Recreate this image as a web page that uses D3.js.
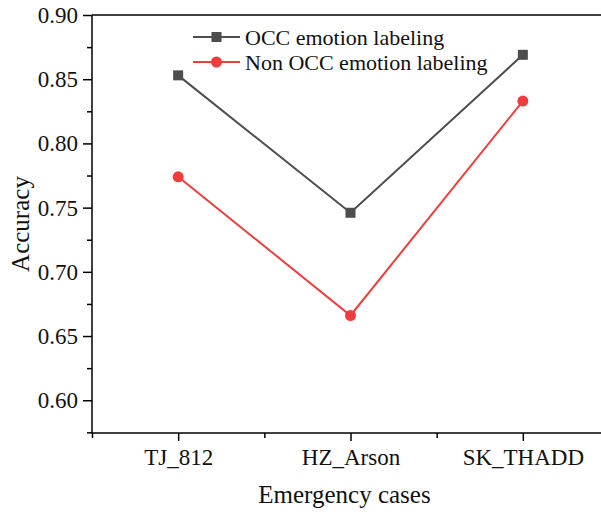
<!DOCTYPE html>
<html><head><meta charset="utf-8">
<script src="https://cdn.jsdelivr.net/npm/d3@7"></script>
<style>body{margin:0;background:#fff}svg{display:block}</style>
</head><body><svg id="c" width="601" height="512"></svg>
<script>
const categories = ["TJ_812", "HZ_Arson", "SK_THADD"];
const occValues = [0.853, 0.746, 0.869];
const nonOccValues = [0.774, 0.666, 0.833];
const yTicks = [0.60, 0.65, 0.70, 0.75, 0.80, 0.85, 0.90];
const seriesNames = ["OCC emotion labeling", "Non OCC emotion labeling"];

const FONT = "'Liberation Serif', 'Times New Roman', serif";
const svg = d3.select("#c");
const L = 92, R = 609, T = 15, B = 433;
const x = d3.scaleLinear().domain([0.5, 3.5]).range([L, R]);
const y = d3.scaleLinear().domain([0.5745, 0.90]).range([B, T]);

// frame
svg.append("line").attr("x1", L).attr("x2", 601).attr("y1", T).attr("y2", T).attr("stroke", "#000").attr("stroke-width", 1.5);

// Y axis
const yAx = svg.append("g").attr("transform", `translate(${L},0)`)
  .call(d3.axisLeft(y).tickValues(yTicks).tickFormat(d3.format(".2f")).tickSize(9).tickPadding(5));
const yMinor = svg.append("g").attr("transform", `translate(${L},0)`)
  .call(d3.axisLeft(y).tickValues(yTicks.map(v => v - 0.025)).tickFormat("").tickSize(5));
// X axis
const xAx = svg.append("g").attr("transform", `translate(0,${B})`)
  .call(d3.axisBottom(x).tickValues([1, 2, 3]).tickFormat((d, i) => categories[i]).tickSize(8).tickPadding(8));
const xMinor = svg.append("g").attr("transform", `translate(0,${B})`)
  .call(d3.axisBottom(x).tickValues([0.5, 1.5, 2.5, 3.5]).tickFormat("").tickSize(5));
[yAx, yMinor, xAx, xMinor].forEach(g => {
  g.attr("font-family", FONT);
  g.selectAll("path").attr("stroke", "#000").attr("stroke-width", 1.5);
  g.selectAll("line").attr("stroke", "#000").attr("stroke-width", 1.5);
});
yMinor.select("path").remove(); xMinor.select("path").remove();
yAx.select("path").attr("d", `M0,${B}V${T}`);
xAx.select("path").attr("d", `M${L},0H601`);
[yAx, xAx].forEach(g => g.selectAll("text").style("font-family", FONT).style("font-size", "23px").attr("fill", "#111"));

// titles
svg.append("text").style("font-family", FONT).attr("fill", "#111").attr("x", (L + R) / 2 - 6).attr("y", 503).attr("text-anchor", "middle").style("font-size", "25px").text("Emergency cases");
svg.append("text").style("font-family", FONT).attr("fill", "#111").attr("transform", `translate(29,${(T + B) / 2}) rotate(-90)`).attr("text-anchor", "middle").style("font-size", "25px").text("Accuracy");

const series = [
  {name: seriesNames[0], values: occValues, color: "#4d4d4d", shape: "square"},
  {name: seriesNames[1], values: nonOccValues, color: "#f23c3c", shape: "circle"}
];
const line = d3.line().x((d, i) => x(i + 1)).y(d => y(d));
function marker(g, cx, cy, s) {
  if (s.shape === "square") g.append("rect").attr("x", cx - 5).attr("y", cy - 5).attr("width", 10).attr("height", 10).attr("fill", s.color);
  else g.append("circle").attr("cx", cx).attr("cy", cy).attr("r", 5.5).attr("fill", s.color);
}
series.forEach(s => {
  svg.append("path").attr("d", line(s.values)).attr("fill", "none").attr("stroke", s.color).attr("stroke-width", 2);
  const g = svg.append("g");
  s.values.forEach((v, i) => marker(g, x(i + 1), y(v), s));
});

// legend
series.forEach((s, i) => {
  const ly = 37 + i * 25;
  svg.append("line").attr("x1", 193).attr("x2", 240).attr("y1", ly).attr("y2", ly).attr("stroke", s.color).attr("stroke-width", 2);
  marker(svg.append("g"), 216.5, ly, s);
  svg.append("text").style("font-family", FONT).attr("fill", "#111").attr("x", 245).attr("y", ly + 7.5).style("font-size", "22px").text(s.name);
});
</script></body></html>
